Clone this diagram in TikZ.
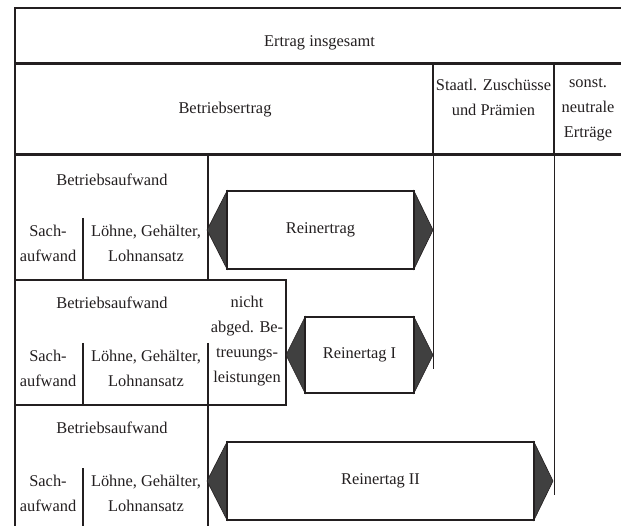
\documentclass[tikz,border=0pt]{standalone}
\usepackage{fontspec}
\setmainfont{Liberation Serif}
\definecolor{ink}{HTML}{231F20}
\definecolor{capgray}{HTML}{404040}
\begin{document}
\begin{tikzpicture}[x=1pt,y=-1pt,
  frame/.style={line width=2.7pt, draw=ink},
  thinline/.style={line width=1pt, draw=ink},
  lbl/.style={font=\fontsize{16.4}{25}\selectfont, align=center, inner sep=0pt, text=ink},
  capshape/.style={fill=capgray, draw=ink, line width=0.6pt, line join=miter},
  rbox/.style={line width=2.8pt, draw=ink}]
\useasboundingbox (0,0) rectangle (621,526);
% outer frame and header rows
\draw[frame] (15,528) -- (15,8) -- (623,8);
\draw[frame] (15,63.5) -- (623,63.5);
\draw[frame] (15,154.5) -- (623,154.5);
\draw[frame] (433,63.5) -- (433,154.5);
\draw[frame] (554,63.5) -- (554,154.5);
\draw[thinline] (433,154.5) -- (433,369);
\draw[thinline] (554,154.5) -- (554,495);
% row 1
\draw[frame] (208,154.5) -- (208,280);
\draw[frame] (83,218) -- (83,280);
% row 2
\draw[frame] (15,280) -- (286,280) -- (286,405);
\draw[frame] (83,343) -- (83,405);
\draw[frame] (208,343) -- (208,405);
\draw[frame] (15,405) -- (287.3,405);
% row 3
\draw[frame] (208,405) -- (208,528);
\draw[frame] (83,468) -- (83,528);
% arrow boxes
\draw[capshape] (227,191) -- (207,230) -- (227,269) -- cycle;
\draw[capshape] (414,191) -- (433,230) -- (414,269) -- cycle;
\draw[rbox] (227,191) rectangle (414,269);
\draw[capshape] (305,317) -- (286,355) -- (305,393) -- cycle;
\draw[capshape] (414,317) -- (433,355) -- (414,393) -- cycle;
\draw[rbox] (305,317) rectangle (414,393);
\draw[capshape] (227,442) -- (207,481) -- (227,520) -- cycle;
\draw[capshape] (534,442) -- (553,481) -- (534,520) -- cycle;
\draw[rbox] (227,442) rectangle (534,520);
% header texts
\node[lbl] (ertrag) at (319.5,43) {Ertrag insgesamt};
\node[lbl] (betrieb) at (225,110) {Betriebsertrag};
\node[lbl] (staatl) at (493.5,97.5) {Staatl. Zuschüsse\\und Prämien};
\node[lbl] (sonst) at (588,110) {sonst.\\neutrale\\Erträge};
% row 1 texts
\node[lbl] (ba1) at (112,180) {Betriebsaufwand};
\node[lbl] (sach1) at (48,243) {Sach-\\aufwand};
\node[lbl] (loehne1) at (146,243) {Löhne, Gehälter,\\Lohnansatz};
\node[lbl] (re) at (320.5,230) {Reinertrag};
% row 2 texts
\node[lbl] (ba2) at (112,303) {Betriebsaufwand};
\node[lbl] (nicht) at (247,341.5) {nicht\\abged. Be-\\treuungs-\\leistungen};
\node[lbl] (sach2) at (48,368) {Sach-\\aufwand};
\node[lbl] (loehne2) at (146,368) {Löhne, Gehälter,\\Lohnansatz};
\node[lbl] (re1) at (359.5,355) {Reinertag I};
% row 3 texts
\node[lbl] (ba3) at (112,428) {Betriebsaufwand};
\node[lbl] (sach3) at (48,493) {Sach-\\aufwand};
\node[lbl] (loehne3) at (146,493) {Löhne, Gehälter,\\Lohnansatz};
\node[lbl] (re2) at (380.5,481) {Reinertag II};
\end{tikzpicture}
\end{document}
